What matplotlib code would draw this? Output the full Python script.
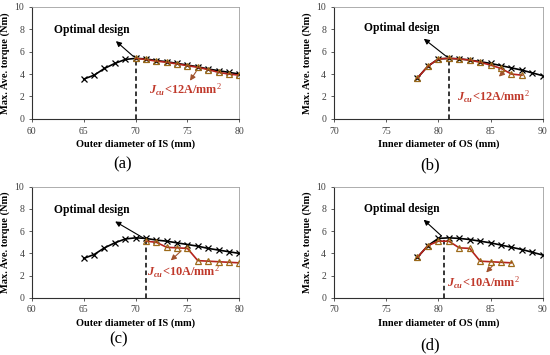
import matplotlib
matplotlib.use("Agg")
import matplotlib.pyplot as plt

plt.rcParams['font.family'] = ['Liberation Serif', 'DejaVu Serif']
plt.rcParams['mathtext.fontset'] = 'custom'
plt.rcParams['mathtext.rm'] = 'Liberation Serif'
plt.rcParams['mathtext.it'] = 'Liberation Serif:italic:bold'
plt.rcParams['mathtext.bf'] = 'Liberation Serif:bold'

# Panel (a): outer diameter of IS
is_x = [65, 66, 67, 68, 69, 70, 71, 72, 73, 74, 75, 76, 77, 78, 79, 80]
is_torque = [3.55, 3.9, 4.5, 4.95, 5.3, 5.4, 5.35, 5.2, 5.1, 4.95, 4.8, 4.65, 4.45, 4.3, 4.15, 4.0]
a_red_x = [70, 71, 72, 73, 74, 75, 76, 77, 78, 79, 80]
a_red_y = [5.4, 5.3, 5.15, 5.05, 4.9, 4.75, 4.6, 4.4, 4.15, 4.0, 3.9]

# Panel (b): inner diameter of OS
os_x = [78, 79, 80, 81, 82, 83, 84, 85, 86, 87, 88, 89, 90]
os_torque = [3.65, 4.7, 5.35, 5.4, 5.35, 5.25, 5.1, 4.95, 4.75, 4.55, 4.35, 4.1, 3.85]
b_red_x = [78, 79, 80, 81, 82, 83, 84, 85, 86, 87, 88]
b_red_y = [3.65, 4.7, 5.35, 5.4, 5.35, 5.25, 5.05, 4.8, 4.5, 4.0, 3.9]

# Panel (c)
c_red_x = [71, 72, 73, 74, 75, 76, 77, 78, 79, 80]
c_red_y = [5.1, 5.0, 4.55, 4.5, 4.45, 3.35, 3.3, 3.25, 3.2, 3.15]

# Panel (d)
d_red_x = [78, 79, 80, 81, 82, 83, 84, 85, 86, 87]
d_red_y = [3.65, 4.7, 5.1, 5.1, 4.5, 4.45, 3.3, 3.25, 3.2, 3.15]

panels = [
    dict(pos=[0.058, 0.665, 0.377, 0.316], bx=is_x, by=is_torque, rx=a_red_x, ry=a_red_y,
         xlim=(60, 80), xt=[60, 65, 70, 75, 80], xlabel='Outer diameter of IS (mm)',
         opt=(70, 5.4), optline=5.4, opt_text=(65.8, 7.9), opt_head=(67.9, 7.1),
         jlabel=r'$J_{cu}$<12A/mm$^2$', jtext=(74.8, 2.6), jtail=(76.0, 4.45), jhead=(75.1, 3.2),
         tag='(a)', tagpos=(0.222, 0.538)),
    dict(pos=[0.607, 0.665, 0.380, 0.316], bx=os_x, by=os_torque, rx=b_red_x, ry=b_red_y,
         xlim=(70, 90), xt=[70, 75, 80, 85, 90], xlabel='Inner diameter of OS (mm)',
         opt=(81, 5.4), optline=5.4, opt_text=(76.5, 8.1), opt_head=(78.4, 7.3),
         jlabel=r'$J_{cu}$<12A/mm$^2$', jtext=(85.3, 2.0), jtail=(86.5, 4.4), jhead=(85.6, 3.6),
         tag='(b)', tagpos=(0.782, 0.535)),
    dict(pos=[0.058, 0.161, 0.377, 0.313], bx=is_x, by=is_torque, rx=c_red_x, ry=c_red_y,
         xlim=(60, 80), xt=[60, 65, 70, 75, 80], xlabel='Outer diameter of IS (mm)',
         opt=(71, 5.25), optline=5.1, opt_text=(65.75, 7.9), opt_head=(67.8, 7.0),
         jlabel=r'$J_{cu}$<10A/mm$^2$', jtext=(74.6, 2.3), jtail=(74.6, 4.4), jhead=(73.2, 3.2),
         tag='(c)', tagpos=(0.215, 0.045)),
    dict(pos=[0.607, 0.161, 0.380, 0.313], bx=os_x, by=os_torque, rx=d_red_x, ry=d_red_y,
         xlim=(70, 90), xt=[70, 75, 80, 85, 90], xlabel='Inner diameter of OS (mm)',
         opt=(80.5, 5.4), optline=5.3, opt_text=(76.5, 8.0), opt_head=(78.4, 7.2),
         jlabel=r'$J_{cu}$<10A/mm$^2$', jtext=(84.3, 1.35), jtail=(85.5, 3.2), jhead=(84.4, 2.1),
         tag='(d)', tagpos=(0.782, 0.028)),
]

fig = plt.figure(figsize=(5.5, 3.55), dpi=100)

red_line = '#b5231c'
tri_edge = '#9c6a1a'
arrow_brown = '#a0522d'

for p in panels:
    ax = fig.add_axes(p['pos'])
    ax.plot(p['bx'], p['by'], color='black', lw=1.2, marker='x', ms=4.5, mew=0.9, zorder=3)
    ax.plot(p['rx'], p['ry'], color=red_line, lw=1.2, marker='^', ms=4.5, mew=0.9,
            mfc='none', mec=tri_edge, zorder=4)
    ax.plot([p['opt'][0], p['opt'][0]], [0, p['optline']], color='black', lw=1.1, ls=(0, (3, 2)), zorder=2)
    ax.set_xlim(*p['xlim'])
    ax.set_ylim(0, 10)
    ax.set_xticks(p['xt'])
    ax.set_yticks([0, 2, 4, 6, 8, 10])
    ax.tick_params(direction='out', length=2.5, width=0.6, labelsize=7, colors='#404040',
                   labelcolor='#404040', pad=3)
    for s in ['top', 'right']:
        ax.spines[s].set_color('#a0a0a0')
        ax.spines[s].set_linewidth(0.6)
    for s in ['left', 'bottom']:
        ax.spines[s].set_color('#303030')
        ax.spines[s].set_linewidth(0.8)
    ax.set_xlabel(p['xlabel'], fontsize=7.5, fontweight='bold', labelpad=3)
    ax.set_ylabel('Max. Ave. torque (Nm)', fontsize=7.5, fontweight='bold', labelpad=3)
    ax.annotate('', xy=p['opt_head'], xytext=p['opt'],
                arrowprops=dict(arrowstyle='-|>', color='black', lw=0.8, mutation_scale=8))
    ax.text(p['opt_text'][0], p['opt_text'][1], 'Optimal design', fontsize=8.3,
            fontweight='bold', ha='center', va='center')
    ax.annotate('', xy=p['jhead'], xytext=p['jtail'],
                arrowprops=dict(arrowstyle='-|>', color=arrow_brown, lw=0.8, mutation_scale=8))
    ax.text(p['jtext'][0], p['jtext'][1], p['jlabel'], fontsize=8.8, fontweight='bold',
            color='#c0392b', ha='center', va='center')
    fig.text(p['tagpos'][0], p['tagpos'][1], p['tag'], fontsize=12, ha='center', va='center')

fig.savefig('out.png', dpi=100)
